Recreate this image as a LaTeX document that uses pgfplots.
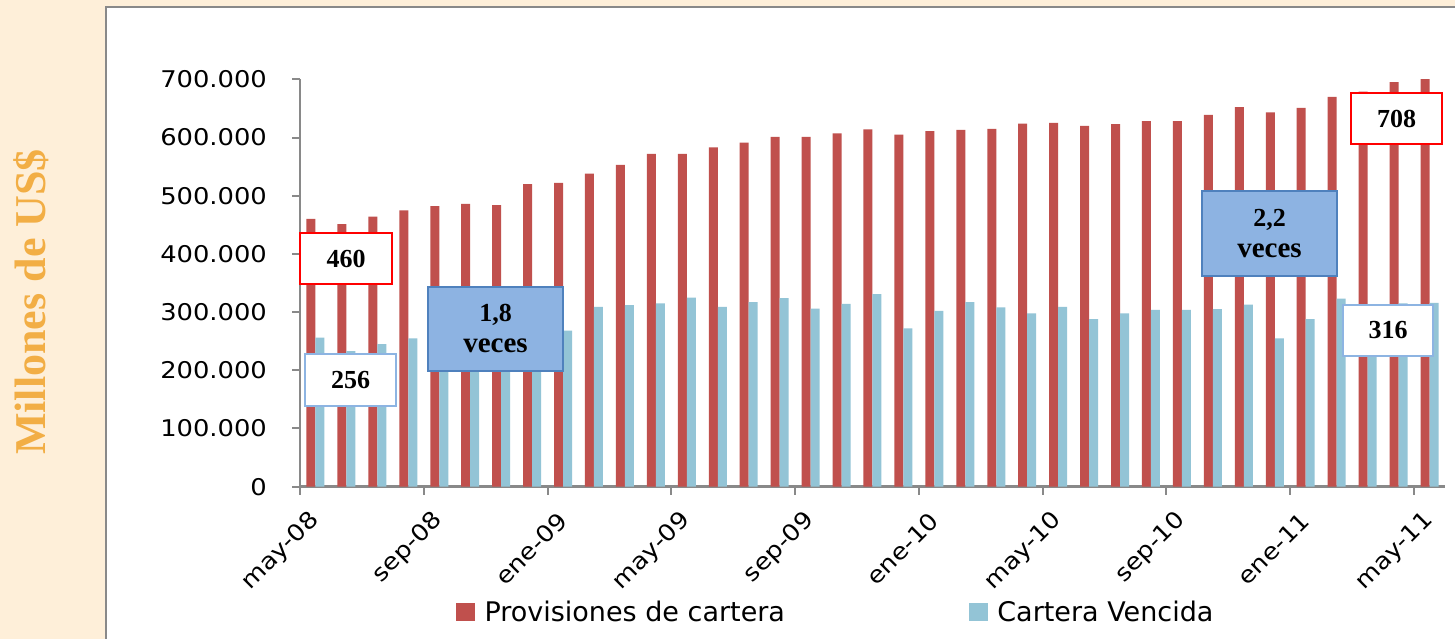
\documentclass[border=0pt]{standalone}
\usepackage{fontspec}
\usepackage{pgfplots}
\usepackage{pgfplotstable}
\pgfplotsset{compat=1.18}
\setmainfont{DejaVu Sans}
\newfontfamily\tickfont[FakeStretch=1.12]{DejaVu Sans}
\newfontfamily\boxfont{Liberation Serif}
\definecolor{provred}{HTML}{C0504D}
\definecolor{vencblue}{HTML}{93C4D6}
\definecolor{beige}{HTML}{FEEFD9}
\definecolor{titleorange}{HTML}{F2AE45}
\definecolor{axisgray}{HTML}{898989}
\definecolor{boxfill}{HTML}{8DB3E2}
\definecolor{boxedge}{HTML}{4F81BD}
\definecolor{lightedge}{HTML}{8DB4E2}

\pgfplotstableread{
i prov venc
0 460 256
1 451 233
2 464 245
3 475 255
4 482 250
5 486 255
6 484 258
7 520 262
8 522 268
9 538 309
10 553 312
11 572 315
12 572 325
13 583 309
14 591 317
15 601 324
16 601 306
17 607 314
18 614 331
19 605 272
20 611 302
21 613 317
22 615 308
23 624 298
24 625 309
25 620 288
26 623 298
27 628 304
28 628 304
29 639 305
30 652 313
31 643 255
32 651 288
33 670 323
34 679 310
35 695 315
36 708 316
}\datatable

\begin{document}
\begin{tikzpicture}
\useasboundingbox (0pt,0pt) rectangle (1455pt,639pt);
\fill[beige] (0pt,0pt) rectangle (1455pt,639pt);
\fill[white] (106pt,-5pt) rectangle (1460pt,632pt);
\draw[axisgray, line width=1.5pt] (106pt,-5pt) -- (106pt,632pt) -- (1460pt,632pt);
\begin{axis}[
  at={(300pt,152.3pt)}, anchor=south west,
  scale only axis, width=1145pt, height=407.4pt,
  xmin=-0.5, xmax=36.5, ymin=0, ymax=700,
  axis x line*=bottom, axis y line*=left,
  x axis line style={axisgray, line width=2.5pt},
  y axis line style={axisgray, line width=2pt},
  tick align=outside, major tick length=8pt,
  tick style={axisgray, line width=2pt},
  ytick={0,100,...,700},
  yticklabels={0,100.000,200.000,300.000,400.000,500.000,600.000,700.000},
  xtick={-0.5,3.5,...,35.5},
  xticklabels={may-08,sep-08,ene-09,may-09,sep-09,ene-10,may-10,sep-10,ene-11,may-11},
  ticklabel style={font=\tickfont\fontsize{23}{23}\selectfont},
  yticklabel style={anchor=east, inner sep=0pt, xshift=-25pt},
  xticklabel style={xshift=15.5pt, yshift=-22pt, rotate=45, anchor=east, inner sep=0pt},
  legend columns=2,
  legend style={at={(axis description cs:0.1362,-0.3076)}, anchor=west,
    draw=none, fill=none, inner sep=0pt,
    nodes={inner sep=0pt, font=\fontsize{27}{27}\selectfont},
    /tikz/every odd column/.append style={column sep=10pt},
    /tikz/every even column/.append style={column sep=184pt}},
]
\addplot[ybar, bar width=9pt, bar shift=-4.5pt, fill=provred, draw=none, forget plot] table[x=i, y=prov] {\datatable};
\addplot[ybar, bar width=9pt, bar shift=4.5pt, fill=vencblue, draw=none, forget plot] table[x=i, y=venc] {\datatable};
\addlegendimage{legend image code/.code={\fill[provred] (0pt,-8pt) rectangle (18pt,9pt);}}
\addlegendentry{Provisiones de cartera}
\addlegendimage{legend image code/.code={\fill[vencblue] (0pt,-8pt) rectangle (18pt,9pt);}}
\addlegendentry{Cartera Vencida}
\end{axis}
\tikzset{bx/.style={font=\boxfont\bfseries\fontsize{26}{31}\selectfont, align=center, inner sep=0pt}}
\node[bx, draw=red, line width=2pt, fill=white, minimum width=92pt, minimum height=51pt] at (346pt,380.5pt) {460};
\node[bx, draw=lightedge, line width=2pt, fill=white, minimum width=91pt, minimum height=52pt] at (350.5pt,259pt) {256};
\node[bx, draw=boxedge, line width=2pt, fill=boxfill, minimum width=135pt, minimum height=84pt] at (495.5pt,310pt) {1,8\\\fontsize{29}{31}\selectfont veces};
\node[bx, draw=boxedge, line width=2pt, fill=boxfill, minimum width=135pt, minimum height=85pt] at (1269.5pt,405.5pt) {2,2\\\fontsize{29}{31}\selectfont veces};
\node[bx, draw=red, line width=2pt, fill=white, minimum width=91pt, minimum height=51pt] at (1396.5pt,520.5pt) {708};
\node[bx, draw=lightedge, line width=2pt, fill=white, minimum width=90pt, minimum height=51pt] at (1388pt,308.5pt) {316};
\node[rotate=90, text=titleorange, font=\boxfont\bfseries\fontsize{44}{44}\selectfont] at (31pt,337pt) {Millones de US\$};
\end{tikzpicture}
\end{document}
